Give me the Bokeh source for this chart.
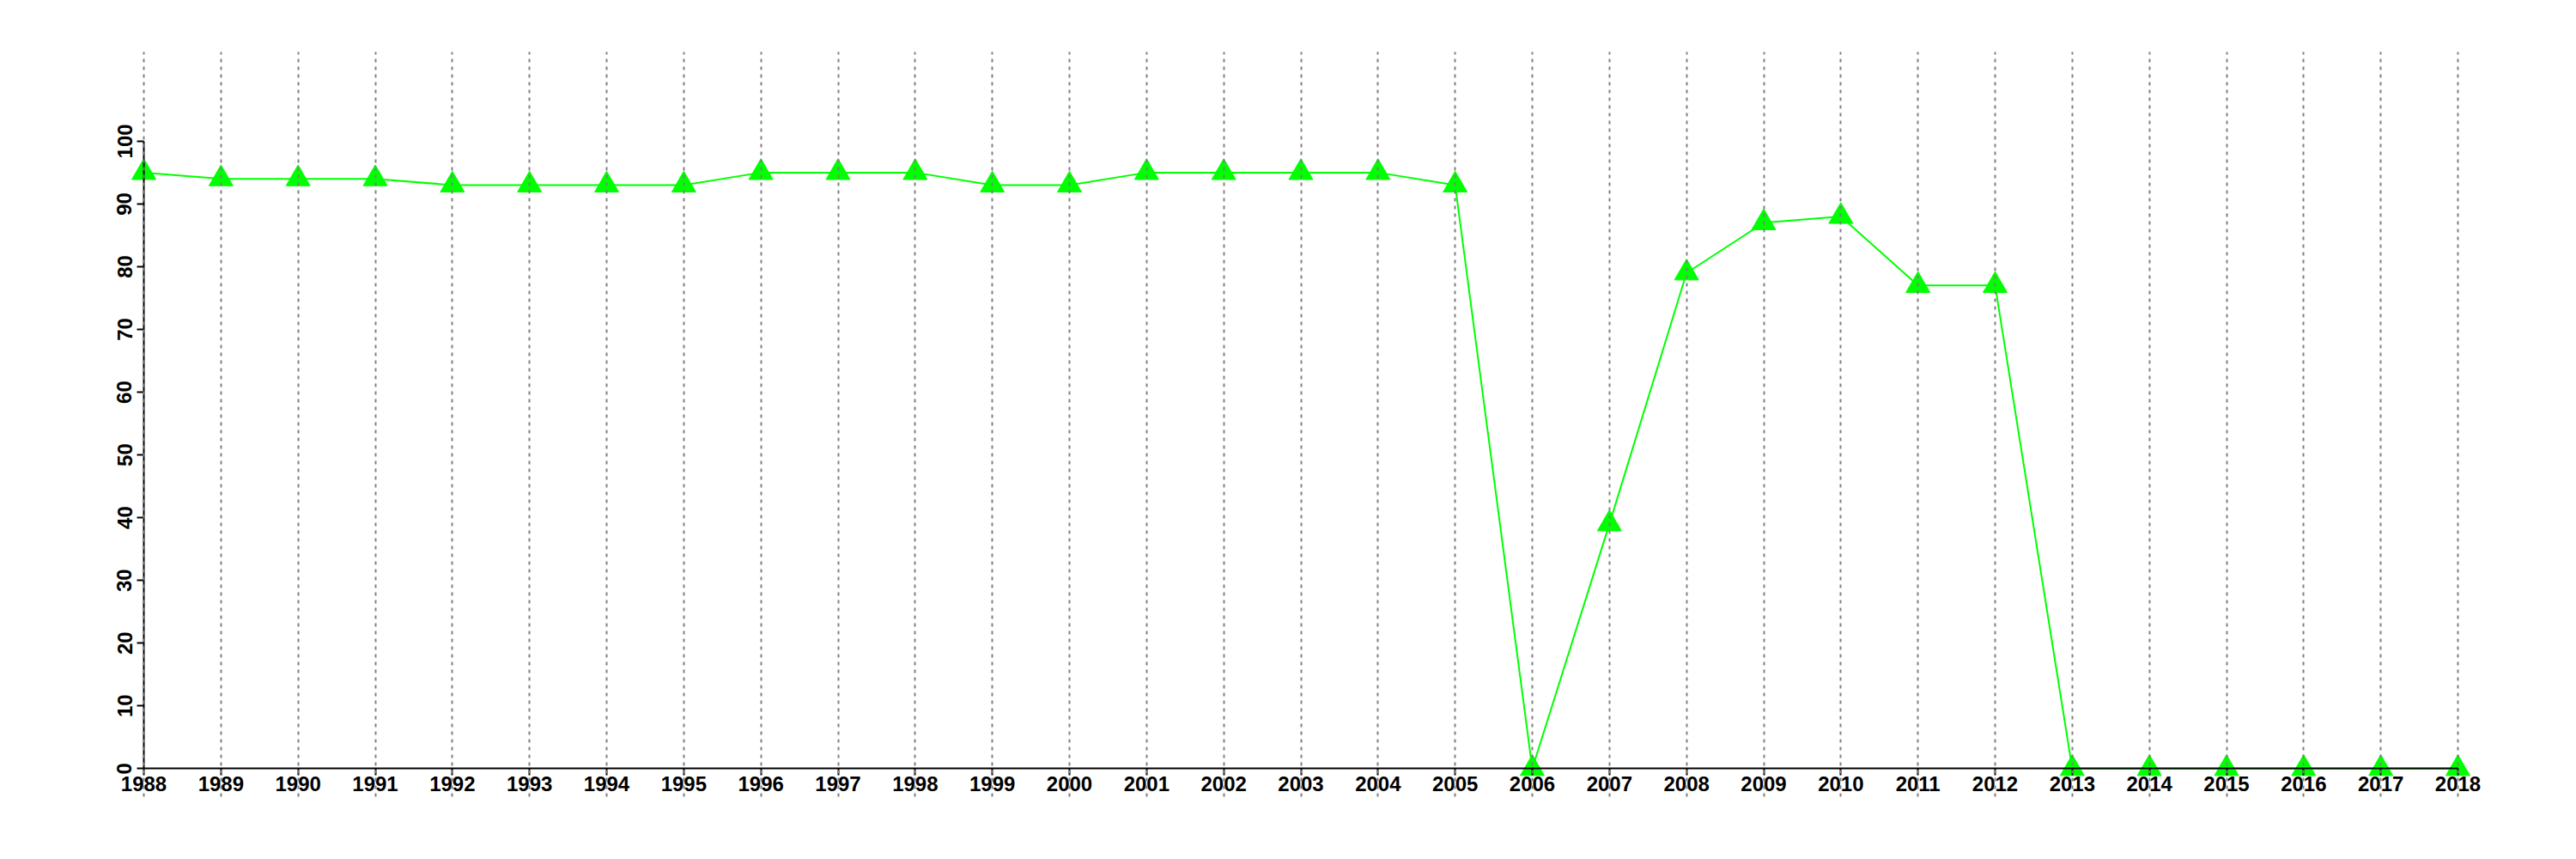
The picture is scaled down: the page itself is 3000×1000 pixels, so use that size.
import numpy as np
from bokeh.plotting import figure
from bokeh.models import FixedTicker, Range1d
from bokeh.embed import file_html
from bokeh.resources import INLINE

years = list(range(1988, 2019))
values = [95, 94, 94, 94, 93, 93, 93, 93, 95, 95, 95, 93, 93, 95, 95, 95, 95, 93,
          0, 39, 79, 87, 88, 77, 77, 0, 0, 0, 0, 0, 0]
y_ticks = list(range(0, 101, 10))

p = figure(width=2984, height=984, output_backend="svg", toolbar_location=None,
           x_range=Range1d(1987.588, 2018.423), y_range=Range1d(-4.48, 114.22),
           min_border_left=130, min_border_right=84, min_border_top=60,
           min_border_bottom=57)
p.outline_line_color = None
p.background_fill_color = "white"
p.border_fill_color = "white"

green = "#00ff00"
p.line(years, values, line_color=green, line_width=2)
p.scatter(years, values, marker="triangle", size=28, fill_color=green, line_color=green)

p.xaxis.fixed_location = 0
p.yaxis.fixed_location = years[0]
p.xaxis.ticker = FixedTicker(ticks=years)
p.yaxis.ticker = FixedTicker(ticks=y_ticks)
p.xaxis.bounds = (years[0], years[-1])
p.yaxis.bounds = (y_ticks[0], y_ticks[-1])
for ax in (p.xaxis, p.yaxis):
    ax.axis_line_width = 2
    ax.axis_line_color = "black"
    ax.major_tick_line_width = 2
    ax.major_tick_line_color = "black"
    ax.major_tick_in = 0
    ax.minor_tick_line_color = None
    ax.major_label_text_font = "Liberation Sans"
    ax.major_label_text_font_size = "24px"
    ax.major_label_text_font_style = "bold"
    ax.major_label_text_color = "black"
p.xaxis.major_tick_out = 8
p.yaxis.major_tick_out = 8
p.xaxis.major_label_standoff = 1
p.yaxis.major_label_standoff = 6
p.yaxis.major_label_orientation = "vertical"

p.xgrid.ticker = FixedTicker(ticks=years)
p.xgrid.grid_line_color = "#808080"
p.xgrid.grid_line_width = 2
p.xgrid.grid_line_dash = "4 5"
p.xgrid.level = "annotation"
p.ygrid.visible = False

open("out.html", "w").write(file_html(p, INLINE))
